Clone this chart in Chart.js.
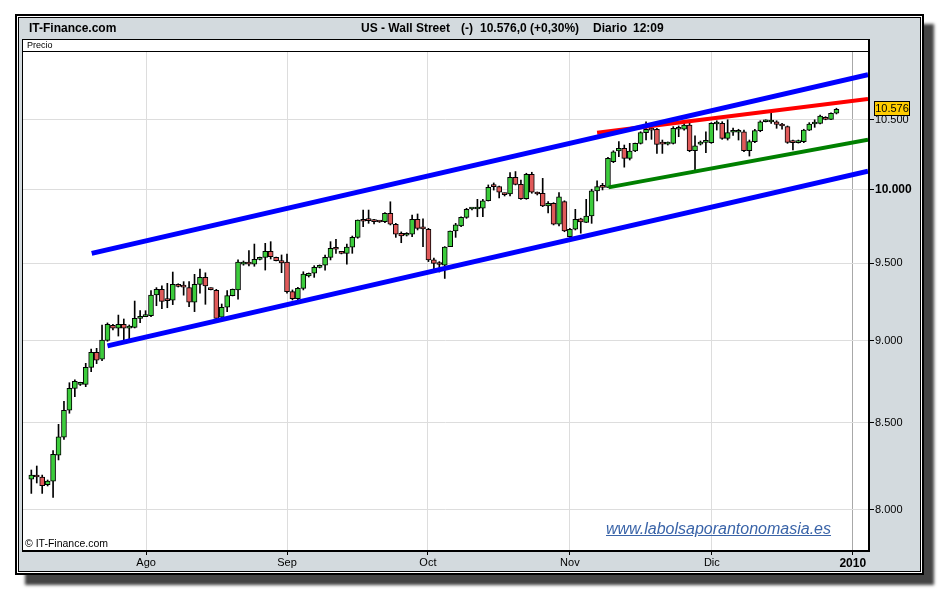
<!DOCTYPE html>
<html>
<head>
<meta charset="utf-8">
<script src="https://cdn.jsdelivr.net/npm/chart.js@4.4.0/dist/chart.umd.min.js"></script>
<style>
  body { margin: 0; width: 940px; height: 590px; background: #fff; position: relative; overflow: hidden;
         font-family: "Liberation Sans", Arial, sans-serif; }
  #frame { position: absolute; left: 15px; top: 14px; width: 909px; height: 561px; box-sizing: border-box;
           border: 2px solid #000; background: #d3dade;
           box-shadow: 10px 10px 3px #444, inset 0 0 0 1px #fff, inset 0 0 0 2px #000; }
  #plot { position: absolute; left: 22px; top: 39px; width: 848px; height: 513px; box-sizing: border-box;
          border: 1px solid #000; border-right-width: 2px; border-bottom-width: 2px; background: #fff; }
  #sep { position: absolute; left: 23px; top: 51px; width: 845px; height: 1px; background: #000; }
  canvas { position: absolute; left: 0; top: 0; z-index: 2; }
  .txt { position: absolute; z-index: 3; white-space: nowrap; color: #000; }
  .head { font-weight: bold; font-size: 12px; top: 21px; line-height: 14px; }
  #precio { left: 27px; top: 40px; font-size: 9px; line-height: 11px; }
  #copy { left: 25px; top: 537px; font-size: 10.5px; line-height: 13px; }
  #url { left: 606px; top: 519px; font-size: 16px; line-height: 19px; font-style: italic;
         text-decoration: underline; color: #3a64a8; }
</style>
</head>
<body>
<div id="frame"></div>
<div id="plot"></div>
<div id="sep"></div>
<div class="txt head" style="left:29px">IT-Finance.com</div>
<div class="txt head" style="left:361px">US - Wall Street</div>
<div class="txt head" style="left:461px">(-)</div>
<div class="txt head" style="left:480px">10.576,0 (+0,30%)</div>
<div class="txt head" style="left:593px">Diario</div>
<div class="txt head" style="left:633px">12:09</div>
<div class="txt" id="precio">Precio</div>
<div class="txt" id="copy">© IT-Finance.com</div>
<div class="txt" id="url">www.labolsaporantonomasia.es</div>
<canvas id="chart" width="940" height="590"></canvas>
<script>
// ======== Data ========
const openVals = [
  8174, 8197, 8186, 8143, 8163, 8311, 8416, 8576, 8708, 8732,
  8732, 8836, 8929, 8886, 9004, 9099, 9080, 9105, 9080, 9086,
  9143, 9154, 9160, 9293, 9330, 9261, 9259, 9362, 9349, 9342,
  9246, 9362, 9408, 9332, 9324, 9150, 9214, 9289, 9326, 9495,
  9509, 9495, 9527, 9540, 9580, 9540, 9518, 9509, 9315, 9269,
  9336, 9417, 9435, 9474, 9488, 9540, 9601, 9574, 9567, 9608,
  9674, 9787, 9792, 9785, 9783, 9781, 9838, 9763, 9702, 9688,
  9695, 9797, 9735, 9729, 9523, 9500, 9488, 9612, 9717, 9751,
  9810, 9867, 9867, 9872, 9924, 10034, 10022, 9971, 9971, 10087,
  10038, 9938, 10109, 9976, 9976, 9888, 9906, 9764, 9918, 9679,
  9729, 9799, 9776, 9819, 9992, 10022, 10017, 10198, 10274, 10293,
  10222, 10274, 10329, 10406, 10431, 10431, 10329, 10324, 10329, 10431,
  10431, 10462, 10276, 10324, 10336, 10334, 10469, 10474, 10365, 10409,
  10409, 10413, 10276, 10341, 10421, 10486, 10484, 10486, 10467, 10450,
  10341, 10334, 10341, 10425, 10469, 10474, 10518, 10503, 10548
];
const highVals = [
  8226, 8249, 8197, 8169, 8338, 8492, 8630, 8742, 8759, 8745,
  8861, 8950, 8954, 9101, 9114, 9105, 9164, 9139, 9101, 9254,
  9192, 9192, 9321, 9341, 9352, 9369, 9443, 9366, 9380, 9380,
  9428, 9463, 9438, 9339, 9330, 9235, 9321, 9332, 9523, 9516,
  9585, 9629, 9542, 9634, 9645, 9542, 9556, 9562, 9326, 9343,
  9445, 9437, 9485, 9490, 9556, 9645, 9661, 9576, 9629, 9683,
  9792, 9860, 9860, 9797, 9785, 9842, 9917, 9769, 9711, 9706,
  9826, 9833, 9799, 9735, 9536, 9512, 9612, 9717, 9769, 9814,
  9872, 9874, 9934, 9934, 10034, 10048, 10026, 9978, 10121, 10128,
  10068, 10116, 10123, 9985, 10080, 9918, 9911, 9980, 9924, 9735,
  9865, 9804, 9934, 10004, 10062, 10045, 10229, 10276, 10341, 10317,
  10329, 10331, 10413, 10486, 10455, 10438, 10353, 10339, 10450, 10455,
  10474, 10479, 10383, 10346, 10413, 10479, 10493, 10486, 10500, 10440,
  10431, 10425, 10353, 10431, 10493, 10500, 10554, 10493, 10474, 10455,
  10353, 10353, 10431, 10479, 10500, 10535, 10523, 10552, 10585
];
const lowVals = [
  8093, 8152, 8093, 8135, 8071, 8284, 8404, 8558, 8657, 8725,
  8718, 8809, 8859, 8877, 8998, 9069, 9031, 9006, 9010, 9082,
  9115, 9154, 9154, 9224, 9205, 9211, 9231, 9345, 9292, 9218,
  9186, 9305, 9233, 9326, 9133, 9139, 9186, 9287, 9266, 9488,
  9483, 9481, 9523, 9456, 9529, 9516, 9439, 9305, 9261, 9261,
  9326, 9410, 9408, 9470, 9456, 9523, 9567, 9563, 9495, 9567,
  9668, 9746, 9769, 9765, 9775, 9774, 9758, 9674, 9638, 9683,
  9679, 9724, 9612, 9512, 9456, 9443, 9401, 9612, 9674, 9746,
  9803, 9860, 9814, 9814, 9922, 9998, 9943, 9957, 9957, 10034,
  9934, 9934, 9976, 9964, 9883, 9841, 9758, 9751, 9712, 9674,
  9724, 9702, 9774, 9769, 9922, 9999, 10017, 10191, 10233, 10159,
  10210, 10269, 10324, 10353, 10358, 10257, 10257, 10317, 10324, 10377,
  10425, 10269, 10136, 10317, 10262, 10329, 10425, 10358, 10353, 10387,
  10353, 10269, 10238, 10334, 10413, 10484, 10474, 10438, 10431, 10329,
  10281, 10331, 10334, 10421, 10445, 10469, 10500, 10500, 10543
];
const closeVals = [
  8197, 8186, 8137, 8163, 8317, 8419, 8576, 8708, 8751, 8738,
  8836, 8929, 8880, 9006, 9105, 9080, 9105, 9080, 9094, 9143,
  9150, 9163, 9293, 9330, 9252, 9257, 9362, 9349, 9344, 9246,
  9362, 9408, 9352, 9328, 9143, 9214, 9289, 9330, 9509, 9509,
  9495, 9527, 9540, 9580, 9544, 9518, 9504, 9315, 9269, 9336,
  9430, 9435, 9474, 9488, 9540, 9601, 9594, 9567, 9608, 9674,
  9792, 9783, 9787, 9781, 9778, 9838, 9763, 9695, 9683, 9702,
  9797, 9735, 9731, 9523, 9500, 9493, 9608, 9717, 9758, 9810,
  9865, 9872, 9872, 9924, 10017, 10022, 9983, 9966, 10087, 10038,
  9938, 10109, 9983, 9971, 9888, 9906, 9764, 9952, 9717, 9729,
  9797, 9778, 9819, 9992, 10022, 10017, 10222, 10269, 10293, 10222,
  10274, 10329, 10406, 10431, 10425, 10322, 10324, 10329, 10438, 10438,
  10462, 10276, 10312, 10336, 10341, 10474, 10474, 10365, 10406, 10413,
  10413, 10276, 10341, 10421, 10486, 10491, 10491, 10467, 10455, 10336,
  10334, 10346, 10425, 10469, 10474, 10528, 10503, 10548, 10576
];

// month ticks (position in sessions from the first candle)
const monthLabels = ['Ago', 'Sep', 'Oct', 'Nov', 'Dic', '2010'];
const monthPos = [21.1, 47, 72.9, 99, 125.1, 151];
const yTickVals = [8000, 8500, 9000, 9500, 10000, 10500];

// trend lines: [start, end] in (session, price)
const upperChannelX = [11.1, 153.8];
const upperChannelY = [9567, 10836];
const lowerChannelX = [14.0, 153.8];
const lowerChannelY = [8969, 10130];
const resistX = [104.0, 153.8];
const resistY = [10406, 10653];
const supportX = [106.1, 153.8];
const supportY = [10017, 10355];

// ======== Helpers ========
function fmt(v) {
  return String(Math.round(v)).replace(/\B(?=(\d{3})+(?!\d))/g, '.');
}
function toPoints(xs, ys) {
  return xs.map((x, i) => ({ x: x, y: ys[i] }));
}
function trendLine(xs, ys, color, width) {
  return {
    type: 'line', data: toPoints(xs, ys), borderColor: color, borderWidth: width,
    pointRadius: 0, order: 0, clip: 0
  };
}

const idx = openVals.map((_, i) => i);
const wickData = idx.map(i => ({ x: i, y: [lowVals[i], highVals[i]] }));
const bodyData = idx.map(i => ({ x: i, y: [openVals[i], closeVals[i]] }));
const bodyColors = idx.map(i => closeVals[i] >= openVals[i] ? '#3ccc3c' : '#e05a5a');

const axisFont = '"Liberation Sans", Arial, sans-serif';

// yellow box with last price on the price axis
const lastPriceBox = {
  id: 'lastPriceBox',
  afterDraw(chart) {
    const last = closeVals[closeVals.length - 1];
    const y = Math.round(chart.scales.y.getPixelForValue(last));
    const x = chart.chartArea.right + 6;
    const ctx = chart.ctx;
    ctx.save();
    ctx.fillStyle = '#ffcc00';
    ctx.fillRect(x, y - 8, 36, 15);
    ctx.strokeStyle = '#000';
    ctx.lineWidth = 1;
    ctx.strokeRect(x + 0.5, y - 7.5, 35, 14);
    ctx.fillStyle = '#000';
    ctx.font = '11px ' + axisFont;
    ctx.textAlign = 'center';
    ctx.textBaseline = 'middle';
    ctx.fillText(fmt(last), x + 18, y);
    ctx.restore();
  }
};

// ======== Chart ========
new Chart(document.getElementById('chart'), {
  type: 'bar',
  data: {
    datasets: [
      trendLine(upperChannelX, upperChannelY, '#0000ff', 5),
      trendLine(lowerChannelX, lowerChannelY, '#0000ff', 5),
      trendLine(resistX, resistY, '#ff0000', 4),
      trendLine(supportX, supportY, '#008000', 4),
      {
        data: bodyData, backgroundColor: bodyColors, borderColor: '#000', borderWidth: 1,
        borderSkipped: false, barThickness: 5, minBarLength: 2, grouped: false, order: 2
      },
      {
        data: wickData, backgroundColor: '#000', borderWidth: 0,
        barThickness: 1, grouped: false, order: 3
      }
    ]
  },
  options: {
    responsive: false,
    animation: false,
    devicePixelRatio: 1,
    layout: { padding: { left: 23, top: 52, right: 20, bottom: 18 } },
    plugins: { legend: { display: false }, tooltip: { enabled: false } },
    scales: {
      x: {
        type: 'linear', position: 'bottom', min: -1.53, max: 153.8, offset: false,
        afterBuildTicks: s => { s.ticks = monthPos.map(v => ({ value: v })); },
        afterFit: s => { s.height = 22; s.paddingLeft = 0; s.paddingRight = 0; },
        border: { display: false },
        grid: {
          offset: false, drawTicks: true, tickLength: 5, tickColor: '#000',
          color: ctx => ctx.index === 5 ? '#a8a8a8' : '#dddddd'
        },
        ticks: {
          autoSkip: false, maxRotation: 0, padding: 1, color: '#000',
          font: ctx => ctx.index === 5
            ? { family: axisFont, size: 12, weight: 'bold' }
            : { family: axisFont, size: 11 },
          callback: (v, i) => monthLabels[i]
        }
      },
      y: {
        type: 'logarithmic', position: 'right', min: 7780, max: 11008,
        afterBuildTicks: s => { s.ticks = yTickVals.map(v => ({ value: v })); },
        afterFit: s => { s.width = 52; s.paddingTop = 0; s.paddingBottom = 0; },
        border: { display: false },
        grid: { drawTicks: true, tickLength: 6, tickColor: '#000', color: '#dddddd' },
        ticks: {
          padding: 1, color: '#000',
          font: ctx => ctx.tick && ctx.tick.value === 10000
            ? { family: axisFont, size: 12, weight: 'bold' }
            : { family: axisFont, size: 11 },
          callback: v => fmt(v)
        }
      }
    }
  },
  plugins: [lastPriceBox]
});
</script>
</body>
</html>
